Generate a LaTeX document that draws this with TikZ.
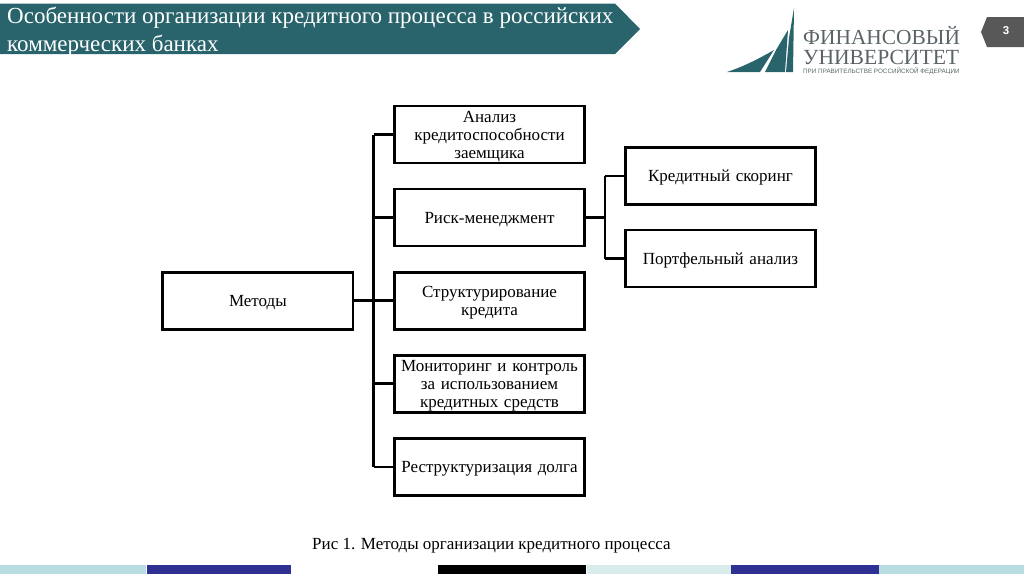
\documentclass[tikz,border=0pt]{standalone}
\usepackage{fontspec}
\setmainfont{Liberation Serif}
\setsansfont{Liberation Sans}
\usepackage{tikz}
\usetikzlibrary{positioning,calc}
\definecolor{bannerteal}{HTML}{29646C}
\definecolor{pagegrey}{HTML}{585858}
\definecolor{stripblue}{HTML}{B7DDE2}
\definecolor{stripnavy}{HTML}{2E3192}
\definecolor{strippale}{HTML}{D8ECEC}
\definecolor{logogrey}{HTML}{5A6468}
\begin{document}
\begin{tikzpicture}[
    x=1pt, y=-1pt,
    font=\fontsize{17}{18}\selectfont,
    node distance=0mm,
    method/.style={draw, line width=2.6pt, fill=white, minimum width=190.5pt, minimum height=57pt, align=center, inner sep=0pt, text width=190pt, execute at end node={\vspace*{-4pt}}},
    link/.style={line width=2.8pt},
    strip/.style={minimum height=9pt, inner sep=0pt, anchor=north west}
]
\useasboundingbox (0,0) rectangle (1024,574);

% header
\fill[bannerteal] (0,3.5) -- (615,3.5) -- (640,29) -- (615,54) -- (0,54) -- cycle;
\node[anchor=north west, text=white, align=left, inner sep=0pt, font=\fontsize{23}{28}\selectfont] (title) at (7,7) {Особенности организации кредитного процесса в российских\\коммерческих банках};
\fill[pagegrey] (981,32) -- (987,17) -- (1024,17) -- (1024,47) -- (987,47) -- cycle;
\node[text=white, inner sep=0pt, font=\sffamily\bfseries\fontsize{11.5}{12}\selectfont] (pagenum) at (1006,31) {3};

% logo
\fill[bannerteal] (794,8) -- (793,72) -- (786,72) -- (789,38) -- cycle;
\fill[bannerteal] (788,30) -- (785,72) -- (765,72) -- (776,50) -- cycle;
\fill[bannerteal] (774,50) -- (760,72) -- (727,72) .. controls (745,66) and (760,58) .. (774,50) -- cycle;
\node[anchor=west, inner sep=0pt, text=logogrey, font=\fontsize{21.4}{21}\selectfont] (logoa) at (803,36) {ФИНАНСОВЫЙ};
\node[anchor=west, inner sep=0pt, text=logogrey, font=\fontsize{21.6}{21}\selectfont] (logob) at (803,57) {УНИВЕРСИТЕТ};
\node[anchor=west, inner sep=0pt, text=logogrey, font=\sffamily\fontsize{6.3}{6}\selectfont] (logoc) at (803,71.5) {ПРИ ПРАВИТЕЛЬСТВЕ РОССИЙСКОЙ ФЕДЕРАЦИИ};

% boxes
\node[method] (m1) at (489.5,134.5) {Анализ\\кредитоспособности\\заемщика};
\node[method, below=23.5pt of m1] (m2) {Риск-менеджмент};
\node[method, below=23.5pt of m2] (m3) {Структурирование\\кредита};
\node[method, below=23.5pt of m3] (m4) {Мониторинг и контроль\\за использованием\\кредитных средств};
\node[method, below=23.5pt of m4] (m5) {Реструктуризация долга};
\node[method, left=38.5pt of m3] (root) {Методы};
\node[method, anchor=center] (r1) at (720.5,176) {Кредитный скоринг};
\node[method, below=23pt of r1] (r2) {Портфельный анализ};

% connectors
\coordinate (trunk) at ($(root.east)!0.5!(m3.west)$);
\coordinate (fork) at ($(m2.east)!0.5!(r1.west |- m2.east)$);
\draw[link] (root.east) -- (m3.west);
\draw[link] (trunk |- m1.west) -- (trunk |- m5.west);
\foreach \i in {m1, m2, m4, m5}
  \draw[link] (trunk |- \i.west) -- (\i.west);
\draw[link] (m2.east) -- (fork);
\draw[link] (fork |- r1.west) -- (fork |- r2.west);
\foreach \i in {r1, r2}
  \draw[link] (fork |- \i.west) -- (\i.west);

% caption
\node[inner sep=0pt, anchor=west] (caption) at (312,546) {Рис 1. Методы организации кредитного процесса};

% bottom strips
\node[strip, fill=stripblue, minimum width=146pt] (s1) at (0,565) {};
\node[strip, fill=stripnavy, minimum width=144pt, right=0pt of s1.north east, anchor=north west] (s2) {};
\node[strip, fill=black, minimum width=148pt] (s3) at (438,565) {};
\node[strip, fill=strippale, minimum width=144pt, right=0pt of s3.north east, anchor=north west] (s4) {};
\node[strip, fill=stripnavy, minimum width=148pt, right=0pt of s4.north east, anchor=north west] (s5) {};
\node[strip, fill=stripblue, minimum width=146pt, right=0pt of s5.north east, anchor=north west] (s6) {};
\end{tikzpicture}
\end{document}
